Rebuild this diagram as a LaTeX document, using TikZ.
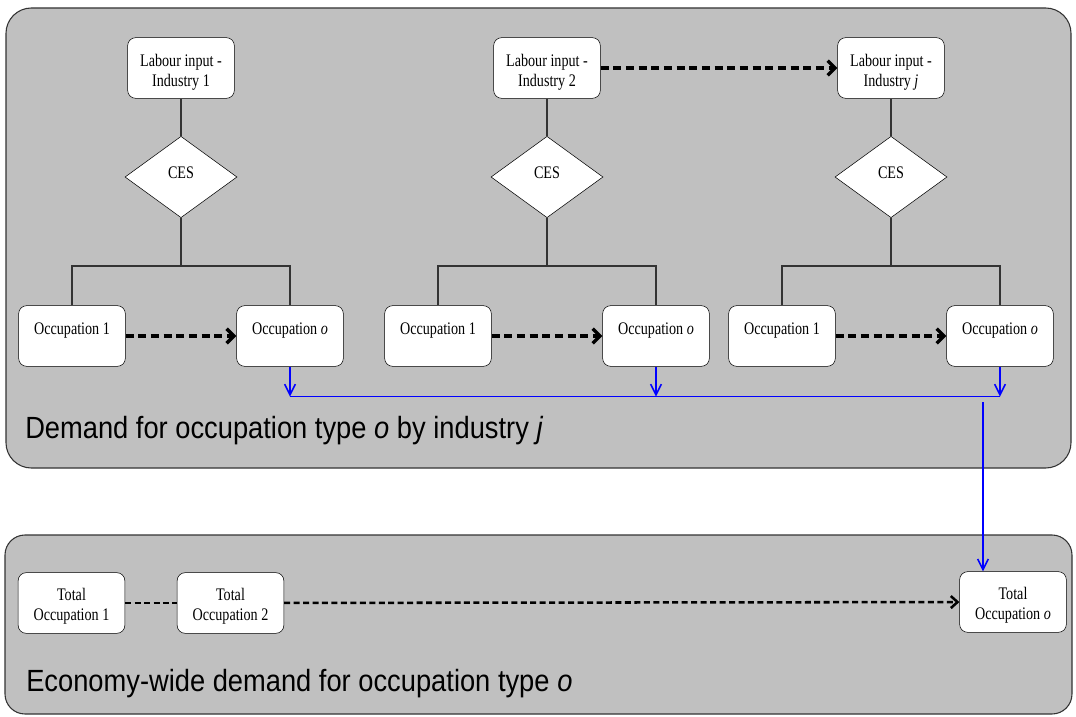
\documentclass[tikz,border=0pt]{standalone}
\usepackage{fontspec}
\newfontfamily\boxfont{Liberation Serif}[FakeStretch=0.8]
\newfontfamily\bandfont{Liberation Sans}[FakeStretch=0.89]
\usetikzlibrary{shapes,arrows,arrows.meta,positioning}
\definecolor{bandgray}{RGB}{192,192,192}
\definecolor{wiregray}{RGB}{51,51,51}
\tikzset{
  band/.style={draw=black!80, line width=0.8pt, fill=bandgray},
  bandtext/.style={anchor=base west, inner sep=0, font=\bandfont\fontsize{23}{27}\selectfont},
  box/.style={draw, fill=white, rounded corners=6pt, align=center, inner sep=0,
    minimum width=80pt, minimum height=45.5pt, font=\boxfont\fontsize{13.25}{15}\selectfont},
  labbox/.style={box, text height=33pt, text depth=4.5pt},
  totbox/.style={box, text height=30pt, text depth=4.5pt},
  occbox/.style={box, text height=9pt, text depth=12pt},
  ces/.style={diamond, draw, fill=white, inner sep=0, minimum width=84pt,
    minimum height=61pt, text height=9pt, text depth=6pt,
    font=\boxfont\fontsize{13.25}{15}\selectfont},
  wire/.style={draw=wiregray, line width=0.8pt},
  dasharrow/.style={line width=2.6pt, dash pattern=on 6pt off 3.5pt,
    -{Straight Barb[length=5.5pt,width=11pt]}},
  sumline/.style={line width=1.9pt, dash pattern=on 4.5pt off 2.6pt},
  sumarrow/.style={sumline, -{Straight Barb[length=5pt,width=9pt]}},
  bluewire/.style={draw=blue, line width=1.2pt},
  bluearrow/.style={bluewire, -{Straight Barb[length=8pt,width=8pt]}},
}
\begin{document}
\begin{tikzpicture}[x=0.75pt,y=-0.75pt]
	\useasboundingbox (0,0) rectangle (1076,717);

	% panels
	\draw[band, rounded corners=19pt] (6,8) rectangle (1071,468);
	\draw[band, rounded corners=15pt] (5,535) rectangle (1072,714);

	% one nest per industry
	\foreach \n/\x/\ind in {1/181/1, 2/547/2, 3/891/\textit{j}}{
		\node[labbox] (lab\n) at (\x,68) {Labour input -\\Industry \ind};
		\node[ces] (ces\n) at (\x,177) {CES};
		\coordinate (fork\n) at (\x,266);
		\node[occbox] (occ\n) at ({\x-109},336) {Occupation 1};
		\node[occbox] (occo\n) at ({\x+109},336) {Occupation \textit{o}};

		\draw[wire] (lab\n) -- (ces\n) -- (fork\n);
		\draw[wire] (occ\n) |- (fork\n) -| (occo\n);
		\draw[dasharrow] (occ\n) -- (occo\n);

		\path (occo\n.south) ++(0,30) coordinate (drop\n);
		\draw[bluearrow] (occo\n) -- (drop\n);
	}
	\draw[dasharrow] (lab2) -- (lab3);
	\draw[bluewire] (drop1) -- (drop3);

	% economy-wide totals
	\node[totbox] (tot1) at (71.5,603) {Total\\Occupation 1};
	\node[totbox] (tot2) at (230.5,603) {Total\\Occupation 2};
	\node[totbox] (toto) at (1013,602) {Total\\Occupation \textit{o}};
	\draw[sumline] (tot1) -- (tot2);
	\draw[sumarrow] (tot2) -- (toto);

	\coordinate (tap) at (983,402);
	\draw[bluearrow] (tap) -- (tap |- toto.north);

	\node[bandtext] (demandlabel) at (25,438) {Demand for occupation type \textit{o} by industry \textit{j}};
	\node[bandtext] (economylabel) at (26,691) {Economy-wide demand for occupation type \textit{o}};
\end{tikzpicture}
\end{document}
